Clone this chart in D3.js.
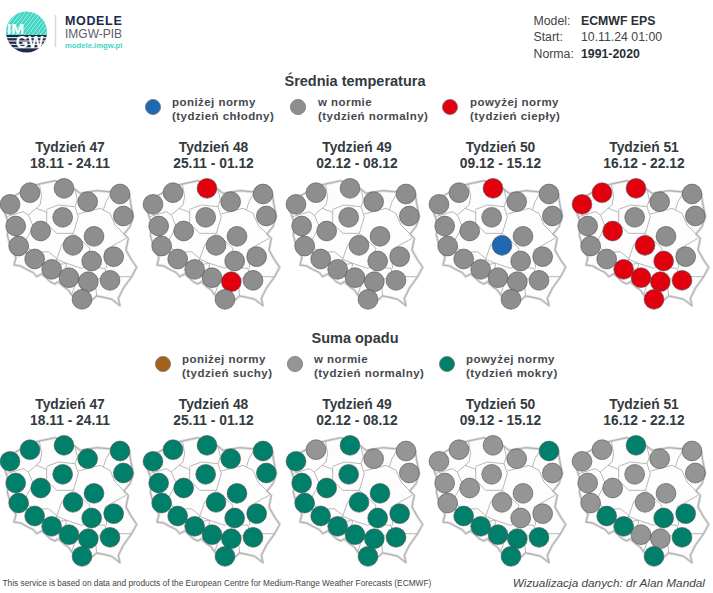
<!DOCTYPE html>
<html>
<head>
<meta charset="utf-8">
<script src="https://cdn.jsdelivr.net/npm/d3@7"></script>
<style>
  html, body { margin: 0; padding: 0; background: #fff; }
  text { font-family: "Liberation Sans", Arial, sans-serif; }
</style>
</head>
<body>
<div id="chart"></div>
<script>
// map units: 0-435 for one panel
const stationX = [30, 90, 192, 263, 360, 370, 188, 47, 122, 282, 219, 56, 104, 341, 275, 155, 207, 265, 330, 246];
const stationY = [103, 68, 55, 95, 72, 138, 142, 168, 183, 199, 226, 228, 267, 260, 273, 298, 323, 335, 331, 388];

const outline = [[118,42],[85,50],[60,68],[30,85],[12,115],[15,130],[22,150],[25,175],[22,195],[30,225],[40,250],[48,262],[42,285],[62,288],[80,298],[100,308],[110,320],[125,312],[135,320],[150,335],[165,342],[175,335],[190,350],[205,360],[215,375],[225,385],[245,410],[270,395],[290,378],[310,382],[335,388],[360,407],[355,385],[370,355],[395,320],[410,292],[395,270],[378,240],[385,205],[372,192],[390,170],[400,140],[392,100],[388,72],[335,66],[290,62],[240,70],[225,58],[190,45],[165,32],[118,42]];

const borders = [
  [[118,42],[125,80],[120,105],[108,115],[135,125],[140,130]],
  [[20,140],[70,125],[85,135],[108,115]],
  [[225,58],[232,90],[225,110]],
  [[140,118],[175,105],[225,110]],
  [[140,120],[140,160],[170,190],[220,190]],
  [[225,110],[235,140],[220,190]],
  [[235,132],[300,115],[310,120]],
  [[335,66],[318,95],[310,120],[330,130],[345,165],[372,192]],
  [[85,135],[100,170],[75,215],[90,240],[100,250]],
  [[42,245],[100,248],[145,245],[170,265],[165,285],[145,320]],
  [[165,285],[200,280],[195,310],[180,345]],
  [[220,190],[185,225],[170,268]],
  [[220,190],[270,235],[255,290]],
  [[170,268],[200,280],[245,295],[255,290],[315,295],[320,320],[285,330],[240,320],[225,345],[215,375]],
  [[285,330],[290,378]],
  [[315,240],[378,205]],
  [[315,240],[320,295]],
  [[320,320],[395,320]]
];

const weeks = ["Tydzień 47", "Tydzień 48", "Tydzień 49", "Tydzień 50", "Tydzień 51"];
const dates = ["18.11 - 24.11", "25.11 - 01.12", "02.12 - 08.12", "09.12 - 15.12", "16.12 - 22.12"];

// 0 below, 1 normal, 2 above, per station
const tempW47 = [1,1,1,1,1,1,1,1,1,1,1,1,1,1,1,1,1,1,1,1];
const tempW48 = [1,1,2,1,1,1,1,1,1,1,1,1,1,1,1,1,1,2,1,1];
const tempW49 = [1,1,1,1,1,1,1,1,1,1,1,1,1,1,1,1,1,1,1,1];
const tempW50 = [1,1,2,1,1,1,1,1,1,1,0,1,1,1,1,1,1,1,1,1];
const tempW51 = [2,2,2,1,1,1,1,1,2,1,2,1,1,1,2,2,2,2,2,2];

const rainW47 = [2,2,2,2,2,2,2,2,2,2,2,2,2,2,2,2,2,2,2,2];
const rainW48 = [2,2,2,2,2,2,2,2,2,2,2,2,2,2,2,2,2,2,2,2];
const rainW49 = [2,1,2,1,1,1,2,2,2,2,2,2,2,2,2,2,2,2,2,2];
const rainW50 = [1,1,1,1,2,1,1,1,1,1,1,1,2,1,1,2,2,2,2,2];
const rainW51 = [1,1,2,1,1,1,1,1,1,1,1,1,2,2,2,2,1,1,2,2];

const tempColors = ["#1f69b3", "#8e8e8e", "#e2000f"];
const rainColors = ["#a5601c", "#959595", "#00806b"];
const tempLegend = [["poniżej normy", "(tydzień chłodny)"], ["w normie", "(tydzień normalny)"], ["powyżej normy", "(tydzień ciepły)"]];
const rainLegend = [["poniżej normy", "(tydzień suchy)"], ["w normie", "(tydzień normalny)"], ["powyżej normy", "(tydzień mokry)"]];

const w = 713, h = 593;
const panelW = 143;
const mapSize = 145;

const svg = d3.select("#chart").append("svg")
  .attr("width", w)
  .attr("height", h)
  .style("display", "block");

const defs = svg.append("defs");
defs.append("filter").attr("id", "soft")
  .append("feGaussianBlur").attr("stdDeviation", 0.35);

const ink = "#333a40";

function drawPanels(rows, colors, mapTop, titleY) {
  rows.forEach((values, i) => {
    const left = i * panelW;
    const x = d3.scaleLinear().domain([0, 435]).range([left, left + mapSize]);
    const y = d3.scaleLinear().domain([0, 435]).range([mapTop, mapTop + mapSize]);
    const line = d3.line().x(d => x(d[0])).y(d => y(d[1]));
    const g = svg.append("g");

    g.append("text")
      .attr("x", 70 + i * 143.5).attr("y", titleY)
      .attr("text-anchor", "middle")
      .attr("font-size", 13.8).attr("font-weight", "bold").attr("fill", ink)
      .text(weeks[i]);
    g.append("text")
      .attr("x", 70 + i * 143.5).attr("y", titleY + 16)
      .attr("text-anchor", "middle")
      .attr("font-size", 13.8).attr("font-weight", "bold").attr("fill", ink)
      .text(dates[i]);

    const map = g.append("g").attr("filter", "url(#soft)");
    map.append("path")
      .attr("d", line(outline))
      .attr("fill", "#fdfdfd")
      .attr("stroke", "#d8d8d8")
      .attr("stroke-width", 2.6)
      .attr("stroke-linejoin", "round");
    map.selectAll(".border")
      .data(borders)
      .enter()
      .append("path")
      .attr("class", "border")
      .attr("d", line)
      .attr("fill", "none")
      .attr("stroke", "#b0b0b0")
      .attr("stroke-width", 0.9);
    map.append("path")
      .attr("d", line(outline))
      .attr("fill", "none")
      .attr("stroke", "#aeaeae")
      .attr("stroke-width", 1)
      .attr("stroke-linejoin", "round");

    g.selectAll("circle")
      .data(values)
      .enter()
      .append("circle")
      .attr("cx", (d, j) => x(stationX[j]))
      .attr("cy", (d, j) => y(stationY[j]))
      .attr("r", 9.9)
      .attr("fill", d => colors[d])
      .attr("stroke", "#4d4d4d")
      .attr("stroke-opacity", 0.65)
      .attr("stroke-width", 0.9);
  });
}

function drawLegend(items, colors, circleXs, textXs, cy) {
  items.forEach((lines, i) => {
    svg.append("circle")
      .attr("cx", circleXs[i]).attr("cy", cy)
      .attr("r", 7.6)
      .attr("fill", colors[i])
      .attr("stroke", "#777")
      .attr("stroke-width", 0.8);
    lines.forEach((t, k) => {
      svg.append("text")
        .attr("x", textXs[i]).attr("y", cy - 1 + k * 13.7)
        .attr("font-size", 11.5).attr("font-weight", "bold")
        .attr("letter-spacing", 0.45)
        .attr("fill", "#45494e")
        .text(t);
    });
  });
}

function heading(t, y) {
  svg.append("text")
    .attr("x", 355).attr("y", y)
    .attr("text-anchor", "middle")
    .attr("font-size", 14.5).attr("font-weight", "bold").attr("fill", ink)
    .text(t);
}

heading("Średnia temperatura", 86);
drawLegend(tempLegend, tempColors, [153, 298, 450], [172, 318, 470], 107);
drawPanels([tempW47, tempW48, tempW49, tempW50, tempW51], tempColors, 170, 152);

heading("Suma opadu", 343);
drawLegend(rainLegend, rainColors, [163, 295, 447], [182, 314, 466], 364);
drawPanels([rainW47, rainW48, rainW49, rainW50, rainW51], rainColors, 427, 409);

// logo
const logo = svg.append("g");
defs.append("clipPath").attr("id", "logoClip")
  .append("circle").attr("cx", 26.5).attr("cy", 32).attr("r", 20.5);
const logoClip = logo.append("g").attr("clip-path", "url(#logoClip)");
logoClip.append("rect").attr("x", 5).attr("y", 11).attr("width", 43).attr("height", 24).attr("fill", "#3fd5c3");
d3.range(0, 14).forEach(i => {
  logoClip.append("line")
    .attr("x1", i * 4).attr("y1", 35)
    .attr("x2", i * 4 + 20).attr("y2", 9)
    .attr("stroke", "#a5ece3").attr("stroke-width", 1);
});
logoClip.append("rect").attr("x", 5).attr("y", 35).attr("width", 43).attr("height", 20).attr("fill", "#20294a");
d3.range(0, 4).forEach(i => {
  logoClip.append("rect")
    .attr("x", 5).attr("y", 37 + i * 3.4)
    .attr("width", 43).attr("height", 1.2)
    .attr("fill", "#d9dce3");
});
logo.append("text").attr("x", 15.5).attr("y", 34).attr("text-anchor", "middle")
  .attr("font-size", 15.5).attr("font-weight", "bold").attr("fill", "#fff").text("IM");
logo.append("text").attr("x", 29.5).attr("y", 48).attr("text-anchor", "middle")
  .attr("font-size", 16).attr("font-weight", "bold").attr("fill", "#fff").text("GW");
logo.append("line").attr("x1", 55.5).attr("x2", 55.5).attr("y1", 15).attr("y2", 47)
  .attr("stroke", "#d5d7da").attr("stroke-width", 1.5);
logo.append("text").attr("x", 65).attr("y", 25).attr("font-size", 12.5).attr("font-weight", "bold")
  .attr("letter-spacing", 0.65).attr("fill", "#20294a").text("MODELE");
logo.append("text").attr("x", 65).attr("y", 38).attr("font-size", 12).attr("fill", "#5b5f66").text("IMGW-PIB");
logo.append("text").attr("x", 65).attr("y", 48).attr("font-size", 7.7).attr("font-weight", "bold")
  .attr("fill", "#3fd5c3").text("modele.imgw.pl");

// run info
const infoLabels = ["Model:", "Start:", "Norma:"];
const infoValues = ["ECMWF EPS", "10.11.24 01:00", "1991-2020"];
const infoBold = [true, false, true];
infoLabels.forEach((t, i) => {
  const yy = 25 + i * 16.3;
  svg.append("text").attr("x", 533.5).attr("y", yy).attr("font-size", 12.3).attr("fill", "#444").text(t);
  svg.append("text").attr("x", 581).attr("y", yy).attr("font-size", 12.3)
    .attr("font-weight", infoBold[i] ? "bold" : "normal")
    .attr("fill", infoBold[i] ? "#2b2f35" : "#444").text(infoValues[i]);
});

// footer
svg.append("text").attr("x", 2.5).attr("y", 586).attr("font-size", 8.3).attr("fill", "#444")
  .text("This service is based on data and products of the European Centre for Medium-Range Weather Forecasts (ECMWF)");
svg.append("text").attr("x", 705).attr("y", 587).attr("text-anchor", "end")
  .attr("font-size", 11.8).attr("font-style", "italic").attr("fill", "#444")
  .text("Wizualizacja danych: dr Alan Mandal");
</script>
</body>
</html>
